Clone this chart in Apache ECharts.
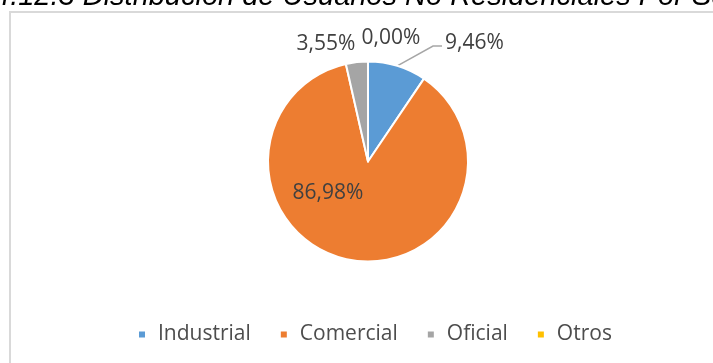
<!DOCTYPE html>
<html>
<head>
<meta charset="utf-8">
<script src="https://cdn.jsdelivr.net/npm/echarts@6/dist/echarts.min.js"></script>
<style>
  html, body { margin: 0; padding: 0; background: #fff; }
  #chart { width: 713px; height: 363px; }
</style>
</head>
<body>
<div id="chart"></div>
<script>
// Usuarios no residenciales por sector (porcentaje)
const sectors = ['Industrial', 'Comercial', 'Oficial', 'Otros'];
const shares = [9.46, 86.98, 3.55, 0.00];
const sectorColors = ['#5B9BD5', '#ED7D31', '#A5A5A5', '#FFC000'];
const titleText = '4.12.3 Distribución de Usuarios No Residenciales Por Sector';

const PIE_CENTER = [368, 161.5];
const PIE_RADIUS = 100;

// Label anchor offsets from the pie centre, in units of the radius
const labelOffsets = [
  { dx: 0.77, dy: -1.185, align: 'left' },   // Industrial (with leader line)
  { dx: -0.40, dy: 0.315, align: 'center' }, // Comercial (inside)
  { dx: -0.42, dy: -1.175, align: 'center' },// Oficial
  { dx: 0.23, dy: -1.235, align: 'center' }  // Otros
];

const chart = echarts.init(document.getElementById('chart'), null, { renderer: 'canvas' });

const fmt = v => v.toFixed(2).replace('.', ',') + '%';

chart.setOption({
  animation: false,
  backgroundColor: '#ffffff',
  color: sectorColors,
  graphic: [
    {
      type: 'rect',
      shape: { x: 10, y: 12, width: 800, height: 500 },
      style: { fill: 'none', stroke: '#d9d9d9', lineWidth: 2 },
      silent: true
    },
    {
      type: 'text',
      x: -6,
      y: -3,
      style: {
        text: titleText,
        font: 'italic 29px "Liberation Sans", Arial, sans-serif',
        fill: '#000000',
        align: 'left',
        verticalAlign: 'middle'
      },
      silent: true
    }
  ],
  legend: {
    data: sectors,
    left: 137,
    top: 324,
    padding: 0,
    icon: 'rect',
    itemWidth: 8,
    itemHeight: 8,
    itemGap: 28,
    textStyle: {
      fontFamily: '"Open Sans", sans-serif',
      fontSize: 21,
      color: '#4d4d4d',
      lineHeight: 21,
      padding: [0, 0, 0, 7]
    }
  },
  series: [{
    type: 'pie',
    center: PIE_CENTER,
    radius: PIE_RADIUS,
    startAngle: 90,
    clockwise: true,
    avoidLabelOverlap: false,
    itemStyle: { borderColor: '#ffffff', borderWidth: 2 },
    label: {
      show: true,
      position: 'outside',
      formatter: p => fmt(p.value),
      fontFamily: '"Open Sans", sans-serif',
      fontSize: 21,
      color: '#404040'
    },
    labelLine: {
      show: true,
      length: 15,
      length2: 8,
      lineStyle: { color: '#a6a6a6', width: 1.5 }
    },
    labelLayout: function (params) {
      const o = labelOffsets[params.dataIndex];
      const x = PIE_CENTER[0] + o.dx * PIE_RADIUS;
      const y = PIE_CENTER[1] + o.dy * PIE_RADIUS;
      const out = { x: x, y: y, align: o.align, verticalAlign: 'middle' };
      if (params.dataIndex === 0 && params.labelLinePoints) {
        const start = params.labelLinePoints[0];
        out.labelLinePoints = [start, [x - 12, y + 3], [x - 3, y + 3]];
      }
      return out;
    },
    data: sectors.map((name, i) => ({
      name: name,
      value: shares[i],
      labelLine: { show: i === 0 }
    }))
  }]
});
</script>
</body>
</html>
